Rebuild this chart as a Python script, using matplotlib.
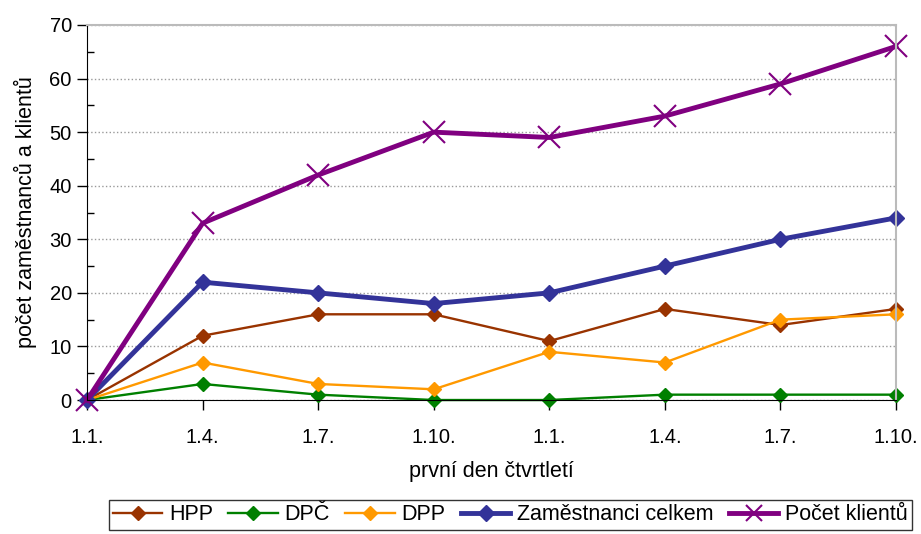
import matplotlib.pyplot as plt
from matplotlib.ticker import MultipleLocator

plt.rcParams['font.family'] = ['Liberation Sans', 'DejaVu Sans']

# první den každého čtvrtletí
kvartaly = ['1.1.', '1.4.', '1.7.', '1.10.', '1.1.', '1.4.', '1.7.', '1.10.']

hpp = [0, 12, 16, 16, 11, 17, 14, 17]
dpc = [0, 3, 1, 0, 0, 1, 1, 1]
dpp = [0, 7, 3, 2, 9, 7, 15, 16]
zamestnanci = [0, 22, 20, 18, 20, 25, 30, 34]
klienti = [0, 33, 42, 50, 49, 53, 59, 66]

fig = plt.figure(figsize=(9.21, 5.34), dpi=100)
ax = fig.add_axes([0.0945, 0.2509, 0.8784, 0.7023])

x = range(len(kvartaly))
ax.plot(x, hpp, color='#993300', lw=1.7, marker='D', ms=7.5, label='HPP', clip_on=False)
ax.plot(x, dpc, color='#008000', lw=1.7, marker='D', ms=7.5, label='DPČ', clip_on=False)
ax.plot(x, dpp, color='#FF9900', lw=1.7, marker='D', ms=7.5, label='DPP', clip_on=False)
ax.plot(x, zamestnanci, color='#333399', lw=3.5, marker='D', ms=8,
        label='Zaměstnanci celkem', clip_on=False)
ax.plot(x, klienti, color='#800080', lw=3.5, marker='x', ms=16, mew=1.5,
        label='Počet klientů', clip_on=False)

ax.set_xlim(0, len(kvartaly) - 1)
ax.set_ylim(0, 70)
ax.set_xticks(list(x))
ax.set_xticklabels(kvartaly)
ax.yaxis.set_major_locator(MultipleLocator(10))
ax.yaxis.set_minor_locator(MultipleLocator(5))
ax.tick_params(axis='both', which='major', direction='out', length=7, width=1,
               labelsize=14.5, pad=4)
ax.tick_params(axis='x', which='major', pad=13)
ax.tick_params(axis='y', which='minor', direction='in', length=5, width=1)

ax.grid(axis='y', which='major', color='#999999', linestyle=':', lw=1)
ax.spines['top'].set_color('#bbbbbb')
ax.spines['top'].set_linewidth(1.5)
ax.spines['right'].set_color('#bbbbbb')
ax.spines['right'].set_linewidth(1.5)

ax.set_xlabel('první den čtvrtletí', fontsize=15.5, labelpad=10)
ax.set_ylabel('počet zaměstnanců a klientů', fontsize=15.5, labelpad=9)

leg = fig.legend(loc='upper left', bbox_to_anchor=(0.118, 0.0637), ncol=5,
                 fontsize=15.5, frameon=True, fancybox=False, edgecolor='black',
                 handlelength=2.3, handletextpad=0.3, columnspacing=0.72,
                 borderpad=0.2, borderaxespad=0)
leg.get_frame().set_linewidth(1)
# menší křížek v legendě
leg.legend_handles[4].set_markersize(11)

fig.savefig('out.png', dpi=100)
